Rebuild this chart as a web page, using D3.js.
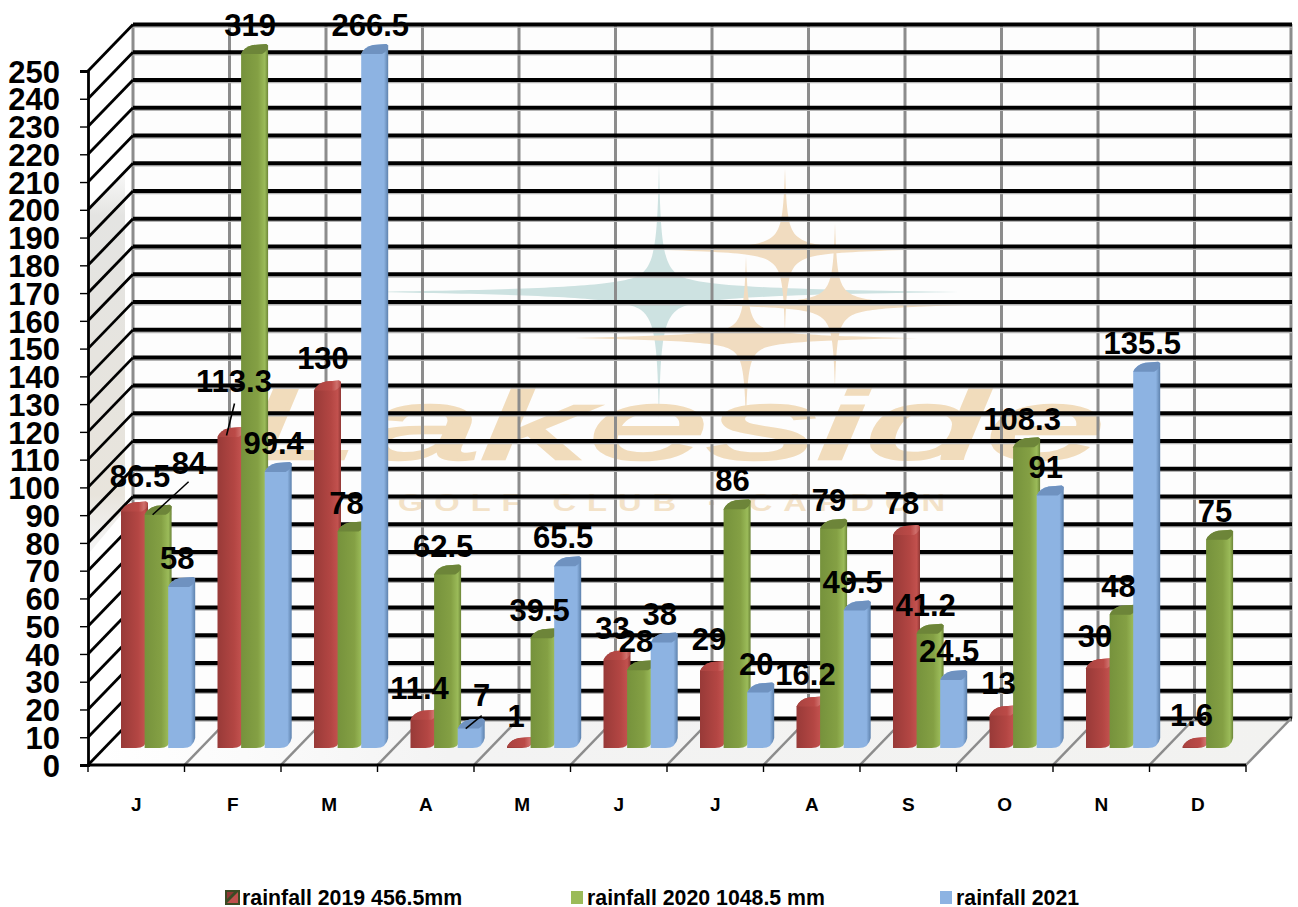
<!DOCTYPE html>
<html>
<head>
<meta charset="utf-8">
<script src="https://cdn.jsdelivr.net/npm/d3@7"></script>
<style>
html,body{margin:0;padding:0;background:#fff;}
svg{display:block;font-family:"Liberation Sans",Arial,sans-serif;}
</style>
</head>
<body>
<div id="chart"></div>
<script>
const months = ["J","F","M","A","M","J","J","A","S","O","N","D"];
const rain2019 = [86.5,113.3,130,11.4,1,33,29,16.2,78,13,30,1.6];
const rain2020 = [84,319,78,62.5,39.5,28,86,79,41.2,108.3,48,75];
const rain2021 = [58,99.4,266.5,7,65.5,38,20,49.5,24.5,91,135.5,null];
const seriesNames = ["rainfall 2019 456.5mm","rainfall 2020 1048.5 mm","rainfall 2021"];
const yTicks = d3.range(0,251,10);

const W=1298,H=907;
const svg=d3.select("#chart").append("svg").attr("width",W).attr("height",H);
const defs=svg.append("defs");

// plot frame
const frontL=88,frontR=1246,frontB=765,frontT=71,depthX=45,depthY=46.5;
const x=d3.scaleBand().domain(d3.range(12)).range([frontL,frontR]);
const inner=d3.scaleBand().domain([0,1,2]).range([33,33+70.8]);
const yFront=d3.scaleLinear().domain([0,250]).range([frontB,frontT]);
const barBase=748;
const yBar=d3.scaleLinear().domain([0,250]).range([barBase,barBase-694]).clamp(true);

// gradients
const palette=[
 {id:"g0",stops:[["0%","#983a38"],["62%","#b34643"],["88%","#c2514e"],["100%","#8f3734"]],cap:"url(#capRed)"},
 {id:"g1",stops:[["0%","#76923c"],["62%","#84a044"],["88%","#9bbb59"],["100%","#6b8437"]],cap:"#6d8539"},
 {id:"g2",stops:[["0%","#8db3e2"],["84%","#8db3e2"],["100%","#5e82ad"]],cap:"#6f92c0"}
];
palette.forEach(p=>{
  const g=defs.append("linearGradient").attr("id",p.id);
  p.stops.forEach(s=>g.append("stop").attr("offset",s[0]).attr("stop-color",s[1]));
});
const cr=defs.append("linearGradient").attr("id","capRed");
cr.append("stop").attr("offset","0%").attr("stop-color","#a84340");
cr.append("stop").attr("offset","65%").attr("stop-color","#bb4a47");
cr.append("stop").attr("offset","85%").attr("stop-color","#d0706c");
cr.append("stop").attr("offset","100%").attr("stop-color","#b04643");
const fg=defs.append("linearGradient").attr("id","floor");
fg.append("stop").attr("offset","0%").attr("stop-color","#ffffff");
fg.append("stop").attr("offset","13%").attr("stop-color","#fbfbfb");
fg.append("stop").attr("offset","30%").attr("stop-color","#f3f3f3");
fg.append("stop").attr("offset","100%").attr("stop-color","#f2f2f0");
const wg=defs.append("linearGradient").attr("id","wall").attr("x1",0).attr("x2",0).attr("y1",0).attr("y2",1);
wg.append("stop").attr("offset","0%").attr("stop-color","#e4e4e2").attr("stop-opacity",0.2);
wg.append("stop").attr("offset","12%").attr("stop-color","#e4e4e2");
wg.append("stop").attr("offset","85%").attr("stop-color","#e8e4dc");
wg.append("stop").attr("offset","100%").attr("stop-color","#eeeeee").attr("stop-opacity",0.6);

// walls
svg.append("rect").attr("x",frontL+depthX).attr("y",24).attr("width",frontR-frontL).attr("height",695).attr("fill","#fdfdfd");
svg.append("path").attr("d","M90,205 L125,170 L125,510 L90,552 Z").attr("fill","url(#wall)");
svg.append("path").attr("d",`M${frontL},${frontB} L${frontR},${frontB} L${frontR+depthX},${frontB-depthY} L${frontL+depthX},${frontB-depthY} Z`).attr("fill","url(#floor)");

// watermark
const stars=[
 {cx:659,cy:292,rx:300,ry:128,w:18,c:"#cde2e1"},
 {cx:785,cy:250,rx:120,ry:82,w:13,c:"#f1dcc0"},
 {cx:835,cy:305,rx:130,ry:82,w:13,c:"#f1dcc0"},
 {cx:746,cy:338,rx:172,ry:82,w:13,c:"#f1dcc0"}
];
const star=s=>{
  const k=(u,v)=>`${s.cx+u},${s.cy+v}`, w=s.w, rx=s.rx, ry=s.ry;
  return `M${k(0,-ry)} C${k(1.5,-ry*0.45)} ${k(3,-w*1.6)} ${k(w,-w)} C${k(w*1.8,-w*0.35)} ${k(rx*0.35,-2.5)} ${k(rx,0)}`+
    ` C${k(rx*0.35,2.5)} ${k(w*1.8,w*0.35)} ${k(w,w)} C${k(3,w*1.6)} ${k(1.5,ry*0.45)} ${k(0,ry)}`+
    ` C${k(-1.5,ry*0.45)} ${k(-3,w*1.6)} ${k(-w,w)} C${k(-w*1.8,w*0.35)} ${k(-rx*0.35,2.5)} ${k(-rx,0)}`+
    ` C${k(-rx*0.35,-2.5)} ${k(-w*1.8,-w*0.35)} ${k(-w,-w)} C${k(-3,-w*1.6)} ${k(-1.5,-ry*0.45)} ${k(0,-ry)} Z`;
};
svg.append("g").selectAll("path").data(stars).join("path").attr("d",star).attr("fill",d=>d.c);
svg.append("text").text("Lakeside").attr("x",240).attr("y",459)
  .attr("font-size",100).attr("font-style","italic")
  .attr("fill","#f1dcbc").attr("stroke","#f1dcbc").attr("stroke-width",2.5)
  .attr("textLength",866).attr("lengthAdjust","spacingAndGlyphs");
svg.append("text").text("GOLF CLUB · CAPDON").attr("x",398).attr("y",511)
  .attr("font-size",24).attr("font-weight","bold").attr("letter-spacing",8)
  .attr("fill","#f3e2c8").attr("textLength",558).attr("lengthAdjust","spacingAndGlyphs");

// grid: vertical on back wall
const vLines=d3.range(0,13);
const edge=i=>frontL+(frontR-frontL)*i/12;
svg.append("g").selectAll("line").data(vLines).join("line")
  .attr("x1",d=>edge(d)+depthX).attr("x2",d=>edge(d)+depthX)
  .attr("y1",24).attr("y2",frontB-depthY)
  .attr("stroke","#8c8c8c").attr("stroke-width",3);

// grid: horizontal on back wall, with soft shadow
const gridG=svg.append("g");
gridG.selectAll("line.s").data(yTicks).join("line").attr("class","s")
  .attr("x1",frontL+depthX).attr("x2",frontR+depthX+1)
  .attr("y1",d=>yFront(d)-depthY+2.6).attr("y2",d=>yFront(d)-depthY+2.6)
  .attr("stroke","#b4b4b4").attr("stroke-width",1.4);
gridG.selectAll("line.m").data(yTicks).join("line").attr("class","m")
  .attr("x1",frontL+depthX).attr("x2",frontR+depthX+1)
  .attr("y1",d=>yFront(d)-depthY).attr("y2",d=>yFront(d)-depthY)
  .attr("stroke","#000").attr("stroke-width",4);

// floor lines
svg.append("g").selectAll("line").data(vLines.slice(1)).join("line")
  .attr("x1",d=>edge(d)).attr("x2",d=>edge(d)+depthX)
  .attr("y1",frontB).attr("y2",frontB-depthY)
  .attr("stroke","#8c8c8c").attr("stroke-width",2.5);

// left wall diagonals
svg.append("g").selectAll("line").data(yTicks).join("line")
  .attr("x1",frontL).attr("x2",frontL+depthX)
  .attr("y1",d=>yFront(d)).attr("y2",d=>yFront(d)-depthY)
  .attr("stroke","#000").attr("stroke-width",2.8);

// axes
const yAxis=d3.axisLeft(yFront).tickValues(yTicks).tickSize(8).tickPadding(20).tickFormat(d3.format("d"));
const yG=svg.append("g").attr("transform",`translate(${frontL},0)`).call(yAxis);
yG.select(".domain").attr("stroke","#000").attr("stroke-width",2.8);
yG.selectAll(".tick line").attr("stroke","#000").attr("stroke-width",1.4);
yG.selectAll("text").attr("font-size",31).attr("font-weight","bold").attr("fill","#000")
  .attr("font-family",'"Liberation Sans",Arial,sans-serif').attr("dy","0.36em");

const xG=svg.append("g").attr("transform",`translate(0,${frontB})`);
xG.append("line").attr("x1",frontL).attr("x2",frontR).attr("stroke","#000").attr("stroke-width",3);
xG.selectAll("line.t").data(vLines).join("line").attr("class","t")
  .attr("x1",d=>edge(d)).attr("x2",d=>edge(d)).attr("y1",0).attr("y2",7)
  .attr("stroke","#000").attr("stroke-width",1.4);
xG.selectAll("text").data(months).join("text")
  .attr("x",(d,i)=>x(i)+x.bandwidth()/2).attr("y",46)
  .attr("text-anchor","middle").attr("font-size",19).attr("font-weight","bold").text(d=>d);

// bars
const allSeries=[rain2019,rain2020,rain2021];
const barW=27,capDX=12,capDY=10,seriesDrop=[3.5,0,0];
const bars=[];
allSeries.forEach((vals,s)=>vals.forEach((v,m)=>{ if(v!==null) bars.push({s,m,v}); }));
const bx=d=>x(d.m)+inner(d.s);
const topY=d=>Math.min(yBar(d.v)+seriesDrop[d.s],barBase-1);
const bodyPath=d=>{
  const x0=bx(d),t=topY(d),b=barBase;
  const r=Math.min(capDY,Math.max(b-t,0)+capDY);
  return `M${x0},${t} L${x0},${b} L${x0+barW-capDX},${b} Q${x0+barW-2},${b} ${x0+barW},${b-r} L${x0+barW},${t-capDY+1.5} L${x0+barW-2},${t-capDY} L${x0+capDX},${t-capDY+1} Q${x0+3},${t-capDY+3} ${x0},${t} Z`;
};
const capPath=d=>{
  const x0=bx(d),t=topY(d);
  return `M${x0},${t} Q${x0+3},${t-capDY+3} ${x0+capDX},${t-capDY+1} L${x0+barW-2},${t-capDY} L${x0+barW},${t-capDY+1.5} Q${x0+barW},${t-3} ${x0+barW-6},${t} Z`;
};
const bG=svg.append("g");
bars.forEach(d=>{
  bG.append("path").attr("d",bodyPath(d)).attr("fill",`url(#g${d.s})`);
  bG.append("path").attr("d",capPath(d)).attr("fill",palette[d.s].cap);
});

// data labels: placed above bars, with the hand-moved ones nudged
const nudges={"0-0":[10,-3],"0-1":[35.5,-23],"1-0":[7.5,-24],"3-2":[15,-5]};
const labelPos=d=>{
  const n=nudges[d.m+"-"+d.s]||[0,0];
  return [bx(d)+13-4+n[0], yBar(d.v)-29+n[1]];
};
svg.append("g").selectAll("text").data(bars).join("text")
  .attr("x",d=>labelPos(d)[0]).attr("y",d=>labelPos(d)[1]).attr("dy","0.36em")
  .attr("text-anchor","middle").attr("font-size",31).attr("font-weight","bold").attr("fill","#000")
  .text(d=>d.v);

// leader lines to the moved labels
const leaders=[{m:0,s:1,dx:[8,44],dy:[0,-33]},{m:1,s:0,dx:[9,17],dy:[2,-30]},{m:3,s:2,dx:[8,24],dy:[0,-13]}];
svg.append("g").selectAll("line").data(leaders).join("line")
  .attr("x1",d=>bx(d)+d.dx[0]).attr("x2",d=>bx(d)+d.dx[1])
  .attr("y1",d=>yBar(allSeries[d.s][d.m])+d.dy[0]).attr("y2",d=>yBar(allSeries[d.s][d.m])+d.dy[1])
  .attr("stroke","#000").attr("stroke-width",1.5);

// legend
const legX=[225,571,940], legTextX=[242,587,956];
const lg=svg.append("g");
const swatchFill=["#3c4a24","#9bbb59","#8db3e2"];
seriesNames.forEach((n,i)=>{
  const w=i===0?15:12;
  lg.append("rect").attr("x",legX[i]).attr("y",i===0?890:891).attr("width",w).attr("height",i===0?15:13).attr("fill",swatchFill[i]);
  if(i===0){
    lg.append("path").attr("d",`M${legX[i]+2},903 L${legX[i]+13},892 L${legX[i]+13},903 Z`).attr("fill","#c0504d");
    lg.append("path").attr("d",`M${legX[i]+2},892 L${legX[i]+9},892 L${legX[i]+2},899 Z`).attr("fill","#8f3734");
  }
  lg.append("text").attr("x",legTextX[i]).attr("y",897).attr("dy","0.36em")
    .attr("font-size",21.3).attr("font-weight","bold").attr("fill","#000").text(n);
});
</script>
</body>
</html>
